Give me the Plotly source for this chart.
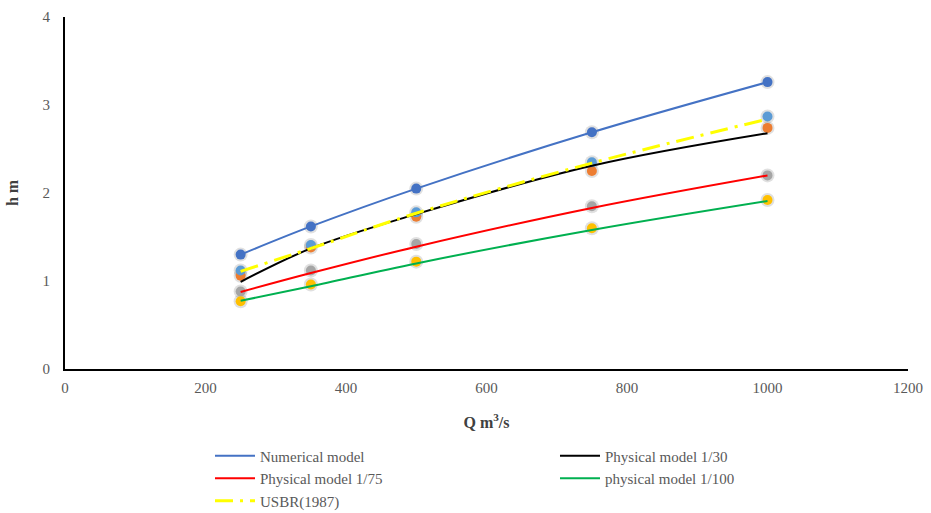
import plotly.graph_objects as go

# Data
Q = [250, 350, 500, 750, 1000]

numerical = [1.30, 1.62, 2.05, 2.69, 3.26]
phys_30 = [1.06, 1.38, 1.73, 2.25, 2.74]
phys_75 = [0.88, 1.12, 1.42, 1.85, 2.20]
phys_100 = [0.77, 0.96, 1.22, 1.60, 1.92]
usbr = [1.12, 1.41, 1.78, 2.35, 2.87]

# trend lines as they appear in the picture
trend_numerical = [1.30, 1.62, 2.05, 2.69, 3.26]
trend_30 = [0.99, 1.37, 1.76, 2.31, 2.68]
trend_75 = [0.875, 1.09, 1.39, 1.83, 2.20]
trend_100 = [0.775, 0.94, 1.20, 1.58, 1.91]
trend_usbr = [1.11, 1.37, 1.77, 2.34, 2.84]

x_ticks = [0, 200, 400, 600, 800, 1000, 1200]
y_ticks = [0, 1, 2, 3, 4]

names = ["Numerical model", "Physical model 1/30", "Physical model 1/75",
         "physical model 1/100", "USBR(1987)"]
points = [numerical, phys_30, phys_75, phys_100, usbr]
trends = [trend_numerical, trend_30, trend_75, trend_100, trend_usbr]
marker_colors = ["#4472C4", "#ED7D31", "#A5A5A5", "#FFC000", "#5B9BD5"]
line_colors = ["#4472C4", "#000000", "#FF0000", "#00B050", "#FFFF00"]
line_dash = ["solid", "solid", "solid", "solid", "18px,7px,3px,7px"]
line_width = [2, 2, 2, 2, 3]

fig = go.Figure()

# marker shadows
for vals in points:
    fig.add_trace(go.Scatter(
        x=Q, y=vals, mode="markers", showlegend=False, hoverinfo="skip",
        marker=dict(size=14, color="rgba(0,0,0,0.12)", line=dict(width=0)),
    ))

# markers
for vals, col in zip(points, marker_colors):
    fig.add_trace(go.Scatter(
        x=Q, y=vals, mode="markers", showlegend=False,
        marker=dict(size=10, color=col, line=dict(width=0)),
    ))

# trend lines (legend entries)
for name, vals, col, dash, w in zip(names, trends, line_colors, line_dash, line_width):
    fig.add_trace(go.Scatter(
        x=Q, y=vals, mode="lines", name=name,
        line=dict(color=col, width=w, dash=dash, shape="spline", smoothing=1.0),
    ))

font_family = "Liberation Serif, Times New Roman, serif"

fig.update_layout(
    width=931, height=513,
    margin=dict(l=65, r=23, t=17, b=144, autoexpand=False),
    paper_bgcolor="white", plot_bgcolor="white",
    font=dict(family=font_family, size=15, color="#595959"),
    showlegend=True,
    legend=dict(
        orientation="h", x=0.172, xanchor="left", y=-0.2, yanchor="top",
        entrywidth=290, entrywidthmode="pixels",
        font=dict(family=font_family, size=15, color="#595959"),
        tracegroupgap=0, itemwidth=40,
        bgcolor="rgba(0,0,0,0)",
    ),
    xaxis=dict(
        range=[0, 1200], tickvals=x_ticks, ticktext=[str(v) for v in x_ticks],
        showgrid=False, zeroline=False, showline=True, linecolor="black", linewidth=2,
        ticks="", ticklen=0, automargin=False, ticklabelstandoff=4,
        title=dict(text="<b>Q m<sup>3</sup>/s</b>", font=dict(family=font_family, size=16, color="#404040"), standoff=22),
    ),
    yaxis=dict(
        range=[0, 4], tickvals=y_ticks, ticktext=[str(v) for v in y_ticks],
        showgrid=False, zeroline=False, showline=True, linecolor="black", linewidth=2,
        ticks="", ticklen=0, automargin=False, ticklabelstandoff=10,
        title=dict(text="<b>h m</b>", font=dict(family=font_family, size=16, color="#404040"), standoff=20),
    ),
)

fig.write_html("out.html", config={"displayModeBar": False},
               post_script="document.body.style.margin='0';document.body.style.overflow='hidden';")
